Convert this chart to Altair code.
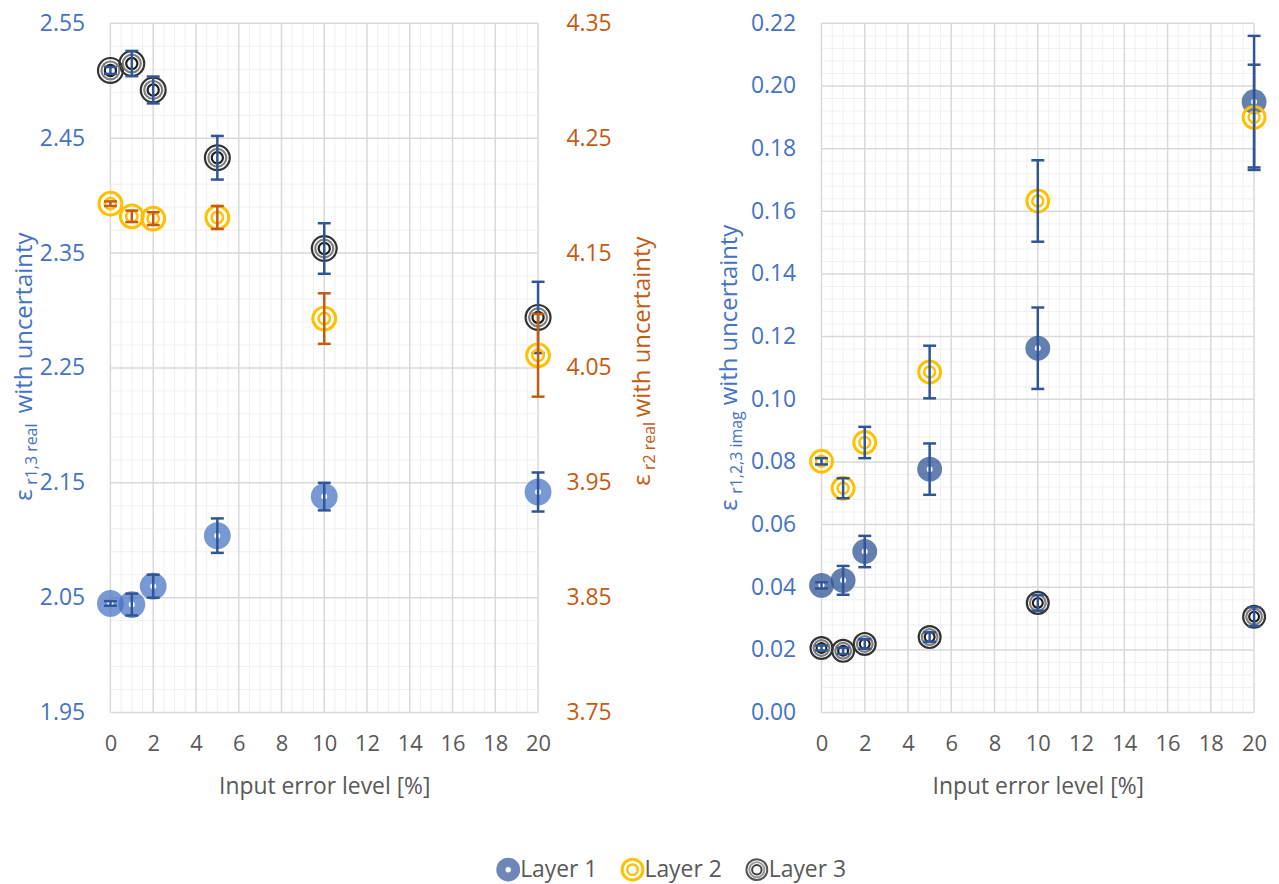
import altair as alt
import pandas as pd
import numpy as np

# ---------------- data ----------------
x_levels = [0, 1, 2, 5, 10, 20]
layers = ["Layer 1", "Layer 2", "Layer 3"]

# left panel (real part)
l1_real = [2.045, 2.044, 2.060, 2.104, 2.138, 2.142]
l1_real_err = [0.002, 0.0095, 0.010, 0.015, 0.012, 0.017]
l3_real = [2.509, 2.515, 2.492, 2.433, 2.354, 2.294]
l3_real_err = [0.003, 0.011, 0.0117, 0.019, 0.022, 0.031]
l2_real = [4.193, 4.182, 4.180, 4.181, 4.093, 4.061]   # secondary axis
l2_real_err = [0.002, 0.005, 0.0056, 0.010, 0.022, 0.036]

# right panel (imaginary part)
l1_imag = [0.0406, 0.0422, 0.0514, 0.0777, 0.1163, 0.195]
l1_imag_err = [0.001, 0.0046, 0.005, 0.0082, 0.013, 0.021]
l2_imag = [0.0802, 0.0716, 0.0862, 0.1087, 0.1633, 0.190]
l2_imag_err = [0.001, 0.0032, 0.005, 0.0084, 0.013, 0.0168]
l3_imag = [0.0206, 0.0197, 0.0219, 0.0241, 0.0350, 0.0306]
l3_imag_err = [0.0008, 0.001, 0.0015, 0.0015, 0.0025, 0.003]

# ---------------- style ----------------
FONT = "Open Sans"
BLUE_TXT = "#4472C4"
ORANGE = "#C55A11"
ERR_BLUE = "#2F5597"
GRAY_TXT = "#595959"
MAJOR = "#D9D9D9"
MINOR = "#F0F0F0"

W_L, W_R, H = 430, 435, 693
TOP = 21  # page y of plot top (for title placement)


def sdf(vals, errs):
    return pd.DataFrame({
        "x": x_levels,
        "v": vals,
        "lo": [v - e for v, e in zip(vals, errs)],
        "hi": [v + e for v, e in zip(vals, errs)],
    })


xscale = alt.Scale(domain=[0, 20], nice=False, zero=False)
xaxis = alt.Axis(values=list(range(0, 21, 2)), labelFont=FONT, labelFontSize=22,
                 labelColor=GRAY_TXT, ticks=False, domain=False, grid=False, labelFlush=False,
                 labelPadding=21, titleFont=FONT, titleFontSize=23, titleColor=GRAY_TXT,
                 titleFontWeight="normal", titlePadding=21)
XT = "Input error level [%]"


def X(field="x"):
    return alt.X(f"{field}:Q", scale=xscale, axis=xaxis, title=XT)


def grid_layers(ymin, ymax, ymajor, yminor_step, yscale, yaxis):
    xs_major = list(range(0, 21, 2))
    xs_minor = [v for v in np.arange(0, 20.01, 0.5) if abs(v / 2 - round(v / 2)) > 1e-6]
    nmaj = int(round((ymax - ymin) / ymajor))
    ys_major = [round(ymin + i * ymajor, 6) for i in range(nmaj + 1)]
    nmin = int(round((ymax - ymin) / yminor_step))
    ys_all = [round(ymin + i * yminor_step, 6) for i in range(nmin + 1)]
    ys_minor = [v for v in ys_all if min(abs(v - m) for m in ys_major) > 1e-6]
    Y = lambda: alt.Y("g:Q", scale=yscale, axis=yaxis, title=None)
    return [
        alt.Chart(pd.DataFrame({"g": xs_minor})).mark_rule(color=MINOR, strokeWidth=1).encode(
            x=alt.X("g:Q", scale=xscale, axis=xaxis, title=XT)),
        alt.Chart(pd.DataFrame({"g": ys_minor})).mark_rule(color=MINOR, strokeWidth=1).encode(y=Y()),
        alt.Chart(pd.DataFrame({"g": xs_major})).mark_rule(color=MAJOR, strokeWidth=1.5).encode(
            x=alt.X("g:Q", scale=xscale, axis=xaxis, title=XT)),
        alt.Chart(pd.DataFrame({"g": ys_major})).mark_rule(color=MAJOR, strokeWidth=1.5).encode(y=Y()),
    ]


def err_layers(df, yscale, yaxis, color, cap=13):
    base = alt.Chart(df)
    return [
        base.mark_rule(color=color, strokeWidth=2.5).encode(
            x=X(), y=alt.Y("lo:Q", scale=yscale, axis=yaxis, title=None), y2="hi:Q"),
        base.mark_tick(orient="horizontal", color=color, size=cap, thickness=2.5, opacity=1).encode(
            x=X(), y=alt.Y("lo:Q", scale=yscale, axis=yaxis, title=None)),
        base.mark_tick(orient="horizontal", color=color, size=cap, thickness=2.5, opacity=1).encode(
            x=X(), y=alt.Y("hi:Q", scale=yscale, axis=yaxis, title=None)),
    ]


def marker_layers(df, yscale, yaxis, kind, d):
    base = alt.Chart(df).encode(x=X(), y=alt.Y("v:Q", scale=yscale, axis=yaxis, title=None))
    if kind == "filled_light":
        return [base.mark_point(shape="circle", filled=True, size=d * d, color="#4472C4", opacity=0.72),
                base.mark_point(shape="circle", filled=True, size=36, color="white", opacity=1)]
    if kind == "filled_dark":
        return [base.mark_point(shape="circle", filled=True, size=d * d, color="#2F5597", opacity=0.75),
                base.mark_point(shape="circle", filled=True, size=36, color="white", opacity=1)]
    if kind == "yellow":
        return [base.mark_point(shape="circle", filled=False, size=d * d, color="#FFC000",
                                strokeWidth=3, opacity=1),
                base.mark_point(shape="circle", filled=False, size=(d * 0.5) ** 2, color="#FFC000",
                                strokeWidth=2.5, opacity=1)]
    if kind == "black":
        return [base.mark_point(shape="circle", filled=False, size=d * d, color="#333333",
                                strokeWidth=2.2, opacity=1),
                base.mark_point(shape="circle", filled=False, size=(d * 0.72) ** 2, color="#7F7F7F",
                                strokeWidth=2.2, opacity=1),
                base.mark_point(shape="circle", filled=False, size=(d * 0.45) ** 2, color="#1F1F1F",
                                strokeWidth=2.2, opacity=1)]
    return []


def rot_title(parts, color):
    # parts: (text, x in plot px, page y where text starts, font size)
    out = []
    for txt, px, py, sz in parts:
        out.append(alt.Chart(pd.DataFrame({"t": [txt]})).mark_text(
            angle=270, align="left", baseline="middle", font=FONT, fontSize=sz, color=color
        ).encode(x=alt.value(px), y=alt.value(py - TOP), text="t:N"))
    return out


# ---------------- left panel ----------------
yL_scale = alt.Scale(domain=[1.95, 2.55], nice=False, zero=False)
yL_axis = alt.Axis(values=[1.95, 2.05, 2.15, 2.25, 2.35, 2.45, 2.55], format=".2f",
                   labelFont=FONT, labelFontSize=23, labelColor=BLUE_TXT, ticks=False,
                   domain=False, grid=False, labelPadding=26, orient="left")
yR_scale = alt.Scale(domain=[3.75, 4.35], nice=False, zero=False)
yR_axis = alt.Axis(values=[3.75, 3.85, 3.95, 4.05, 4.15, 4.25, 4.35], format=".2f",
                   labelFont=FONT, labelFontSize=23, labelColor=ORANGE, ticks=False,
                   domain=False, grid=False, labelPadding=28, orient="right")

dL1 = sdf(l1_real, l1_real_err)
dL3 = sdf(l3_real, l3_real_err)
dL2 = sdf(l2_real, l2_real_err)

primary = alt.layer(
    *grid_layers(1.95, 2.55, 0.1, 0.02, yL_scale, yL_axis),
    *marker_layers(dL1, yL_scale, yL_axis, "filled_light", 27),
    *err_layers(dL1, yL_scale, yL_axis, ERR_BLUE),
    *marker_layers(dL3, yL_scale, yL_axis, "black", 25),
    *err_layers(dL3, yL_scale, yL_axis, ERR_BLUE),
    *rot_title([("ε", -86, 501, 24), ("r1,3 real", -79, 485, 16), ("with uncertainty", -86, 413, 24)],
               BLUE_TXT),
)
secondary = alt.layer(
    *marker_layers(dL2, yR_scale, yR_axis, "yellow", 23),
    *err_layers(dL2, yR_scale, yR_axis, ORANGE),
    *rot_title([("ε", 536, 486, 24), ("r2 real", 543, 470, 16), ("with uncertainty", 536, 417, 24)],
               ORANGE),
)
left = alt.layer(primary, secondary).resolve_scale(y="independent").properties(width=W_L, height=H)

# ---------------- right panel ----------------
yI_scale = alt.Scale(domain=[0, 0.22], nice=False, zero=False)
yI_axis = alt.Axis(values=[round(0.02 * i, 2) for i in range(12)], format=".2f",
                   labelFont=FONT, labelFontSize=23, labelColor=BLUE_TXT, ticks=False,
                   domain=False, grid=False, labelPadding=26, orient="left")
dR1 = sdf(l1_imag, l1_imag_err)
dR2 = sdf(l2_imag, l2_imag_err)
dR3 = sdf(l3_imag, l3_imag_err)

right = alt.layer(
    *grid_layers(0.0, 0.22, 0.02, 0.004, yI_scale, yI_axis),
    *marker_layers(dR1, yI_scale, yI_axis, "filled_dark", 25),
    *err_layers(dR1, yI_scale, yI_axis, ERR_BLUE),
    *marker_layers(dR2, yI_scale, yI_axis, "yellow", 22),
    *err_layers(dR2, yI_scale, yI_axis, ERR_BLUE),
    *marker_layers(dR3, yI_scale, yI_axis, "black", 22),
    *err_layers(dR3, yI_scale, yI_axis, ERR_BLUE),
    *rot_title([("ε", -92, 511, 24), ("r1,2,3 imag", -85, 494, 16), ("with uncertainty", -92, 405, 24)],
               BLUE_TXT),
).properties(width=W_R, height=H)

# ---------------- legend ----------------
leg_df = pd.DataFrame({"layer": layers})
lx = alt.X("layer:N", scale=alt.Scale(type="point", domain=layers, range=[400, 650], padding=0), axis=None)
lbase = alt.Chart(leg_df).encode(x=lx, y=alt.value(13))
f1 = alt.datum.layer == "Layer 1"
f2 = alt.datum.layer == "Layer 2"
f3 = alt.datum.layer == "Layer 3"
legend = alt.layer(
    lbase.transform_filter(f1).mark_point(shape="circle", filled=True, size=576, color="#2F5597", opacity=0.7),
    lbase.transform_filter(f1).mark_point(shape="circle", filled=True, size=30, color="white", opacity=1),
    lbase.transform_filter(f2).mark_point(shape="circle", filled=False, size=440, color="#FFC000",
                                          strokeWidth=3, opacity=1),
    lbase.transform_filter(f2).mark_point(shape="circle", filled=False, size=110, color="#FFC000",
                                          strokeWidth=2.5, opacity=1),
    lbase.transform_filter(f3).mark_point(shape="circle", filled=False, size=440, color="#555555",
                                          strokeWidth=2, opacity=1),
    lbase.transform_filter(f3).mark_point(shape="circle", filled=False, size=230, color="#999999",
                                          strokeWidth=2, opacity=1),
    lbase.transform_filter(f3).mark_point(shape="circle", filled=False, size=90, color="#404040",
                                          strokeWidth=2, opacity=1),
    lbase.mark_text(align="left", baseline="middle", dx=12, font=FONT, fontSize=23,
                    color=GRAY_TXT).encode(text="layer:N"),
).properties(width=1146, height=26)

top = alt.hconcat(left, right, spacing=285, bounds="flush")
chart = alt.vconcat(top, legend, spacing=55).properties(
    padding={"top": 2, "left": 5, "right": 0, "bottom": 0}, background="white"
).configure_view(stroke=None)

chart.save("out.html", embed_options={"renderer": "svg", "actions": False})
